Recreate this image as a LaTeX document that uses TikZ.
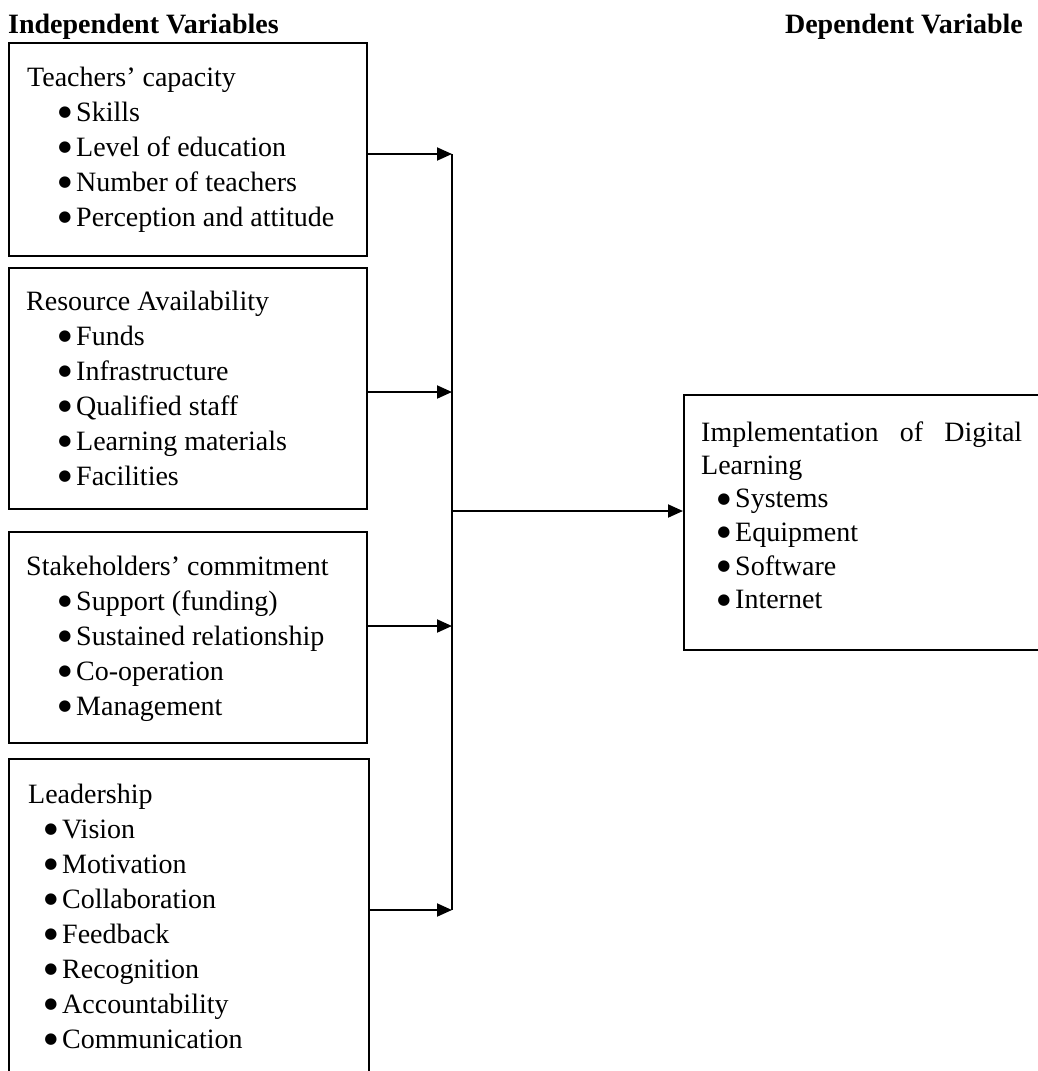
\documentclass[tikz,border=0pt]{standalone}
\usepackage{fontspec}
\setmainfont{Liberation Serif}
\newfontfamily\bulfont{DejaVu Sans}
\usetikzlibrary{arrows.meta}
\begin{document}
\begin{tikzpicture}[x=1pt,y=-1pt,
  box/.style={draw, line width=1.9pt, rectangle, inner sep=0pt, anchor=north west},
  txt/.style={anchor=base west, inner sep=0pt, font=\fontsize{28}{34}\selectfont},
  bul/.style={anchor=base, inner sep=0pt, yshift=4.5pt, font=\bulfont\fontsize{15}{17}\selectfont},
  hd/.style={inner sep=0pt, font=\fontsize{28}{34}\selectfont\bfseries},
  arr/.style={line width=1.9pt, -{Triangle[length=15pt,width=13pt]}},
  ln/.style={line width=1.9pt}]
\useasboundingbox (0,0) rectangle (1038,1071);
\clip (0,0) rectangle (1038,1071);

% titles
\node[hd, anchor=base west] (tind) at (8,33) {Independent Variables};
\node[hd, anchor=base east] (tdep) at (1023,33) {Dependent Variable};

% boxes
\node[box, minimum width=358pt, minimum height=213pt] (b1) at (8,42) {};
\node[box, minimum width=358pt, minimum height=241pt] (b2) at (8,267) {};
\node[box, minimum width=358pt, minimum height=211pt] (b3) at (8,531) {};
\node[box, minimum width=360pt, minimum height=330pt] (b4) at (8,758) {};
\node[box, minimum width=370pt, minimum height=255pt] (dv) at (683,394) {};

% box 1
\node[txt] (h1) at (27,86) {Teachers’ capacity};
\foreach \t [count=\i] in {Skills, Level of education, Number of teachers, Perception and attitude}{
  \node[bul] (b1d\i) at (65,{86+35*\i}) {●};
  \node[txt] (b1t\i) at (76,{86+35*\i}) {\t};
}
% box 2
\node[txt] (h2) at (26,310) {Resource Availability};
\foreach \t [count=\i] in {Funds, Infrastructure, Qualified staff, Learning materials, Facilities}{
  \node[bul] (b2d\i) at (65,{310+35*\i}) {●};
  \node[txt] (b2t\i) at (76,{310+35*\i}) {\t};
}
% box 3
\node[txt] (h3) at (26,575) {Stakeholders’ commitment};
\foreach \t [count=\i] in {Support (funding), Sustained relationship, Co-operation, Management}{
  \node[bul] (b3d\i) at (65,{575+35*\i}) {●};
  \node[txt] (b3t\i) at (76,{575+35*\i}) {\t};
}
% box 4
\node[txt] (h4) at (28,803) {Leadership};
\foreach \t [count=\i] in {Vision, Motivation, Collaboration, Feedback, Recognition, Accountability, Communication}{
  \node[bul] (b4d\i) at (51,{803+35*\i}) {●};
  \node[txt] (b4t\i) at (62,{803+35*\i}) {\t};
}
% dependent box
\node[txt] (h5) at (701,441) {\makebox[321pt][s]{Implementation of Digital}};
\node[txt] (h5b) at (701,474) {Learning};
\foreach \t [count=\i] in {Systems, Equipment, Software, Internet}{
  \node[bul] (dvd\i) at (724,{474+33.7*\i}) {●};
  \node[txt] (dvt\i) at (735,{474+33.7*\i}) {\t};
}

% connectors
\coordinate (j1) at (452,154);
\coordinate (j2) at (452,392);
\coordinate (j3) at (452,626);
\coordinate (j4) at (452,910);
\coordinate (jm) at (452,511);
\draw[ln] (j1) -- (j4);
\draw[arr] (b1.east |- j1) -- (j1);
\draw[arr] (b2.east |- j2) -- (j2);
\draw[arr] (b3.east |- j3) -- (j3);
\draw[arr] (b4.east |- j4) -- (j4);
\draw[arr] (jm) -- (dv.west |- jm);
\end{tikzpicture}
\end{document}
